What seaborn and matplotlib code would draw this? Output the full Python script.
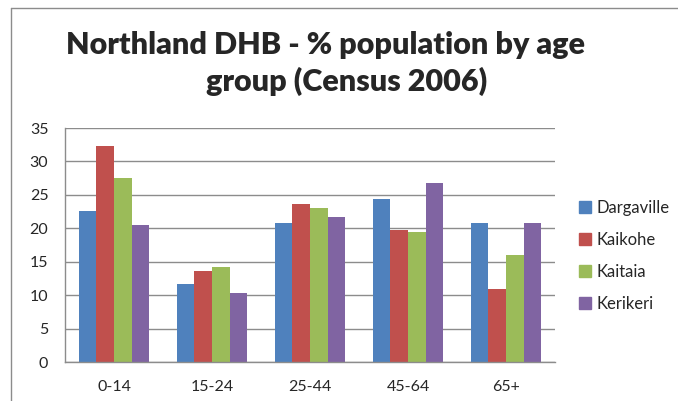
import numpy as np
import pandas as pd
import matplotlib
matplotlib.use("Agg")
import matplotlib.pyplot as plt
import seaborn as sns
from matplotlib.lines import Line2D

age_groups = ["0-14", "15-24", "25-44", "45-64", "65+"]
towns = ["Dargaville", "Kaikohe", "Kaitaia", "Kerikeri"]
dargaville = [22.6, 11.7, 20.75, 24.45, 20.75]
kaikohe = [32.3, 13.55, 23.6, 19.75, 10.85]
kaitaia = [27.5, 14.15, 23.0, 19.5, 16.0]
kerikeri = [20.5, 10.25, 21.75, 26.75, 20.75]

colors = ["#4F81BD", "#C0504D", "#9BBB59", "#8064A2"]

df = pd.DataFrame({"age": age_groups, "Dargaville": dargaville, "Kaikohe": kaikohe,
                   "Kaitaia": kaitaia, "Kerikeri": kerikeri})
long_df = df.melt(id_vars="age", var_name="town", value_name="pct")

sns.set_style("white")
plt.rcParams["font.family"] = ["Lato", "DejaVu Sans"]

fig = plt.figure(figsize=(6.78, 4.01), dpi=100)
ax = fig.add_axes([65 / 678, 39 / 401, 490 / 678, 234 / 401])

sns.barplot(data=long_df, x="age", y="pct", hue="town", order=age_groups,
            hue_order=towns, palette=colors, width=0.72, saturation=1,
            edgecolor="none", linewidth=0, ax=ax)

ax.set_ylim(0, 35)
ax.set_yticks(np.arange(0, 36, 5))
ax.set_xlim(-0.5, len(age_groups) - 0.5)
ax.set_xlabel("")
ax.set_ylabel("")
ax.yaxis.grid(True, color="#8c8c8c", linewidth=1.0)
ax.set_axisbelow(True)
for side in ["top", "right"]:
    ax.spines[side].set_visible(False)
for side in ["left", "bottom"]:
    ax.spines[side].set_color("#8c8c8c")
    ax.spines[side].set_linewidth(1.0)
ax.tick_params(axis="y", length=0, pad=12, labelsize=11.5)
ax.tick_params(axis="x", length=0, pad=13, labelsize=11.5)

handles = [plt.Rectangle((0, 0), 1, 1, color=c) for c in colors]
ax.legend(handles, towns, loc="upper left", bbox_to_anchor=(1.035, 0.72),
          frameon=False, fontsize=12, handlelength=0.75, handleheight=0.75,
          handletextpad=0.3, labelspacing=0.95, borderaxespad=0)

fig.text(325 / 678, 1 - 45 / 401, "Northland DHB - % population by age",
         ha="center", va="center", fontsize=22, fontweight="heavy")
fig.text(347 / 678, 1 - 81 / 401, "group (Census 2006)",
         ha="center", va="center", fontsize=22, fontweight="heavy")

# chart area frame
fig.add_artist(Line2D([11 / 678, 11 / 678], [0, 1 - 8 / 401], transform=fig.transFigure,
                      color="#8c8c8c", linewidth=1.0))
fig.add_artist(Line2D([11 / 678, 1], [1 - 8 / 401, 1 - 8 / 401], transform=fig.transFigure,
                      color="#8c8c8c", linewidth=1.0))

fig.savefig("out.png", dpi=100)
